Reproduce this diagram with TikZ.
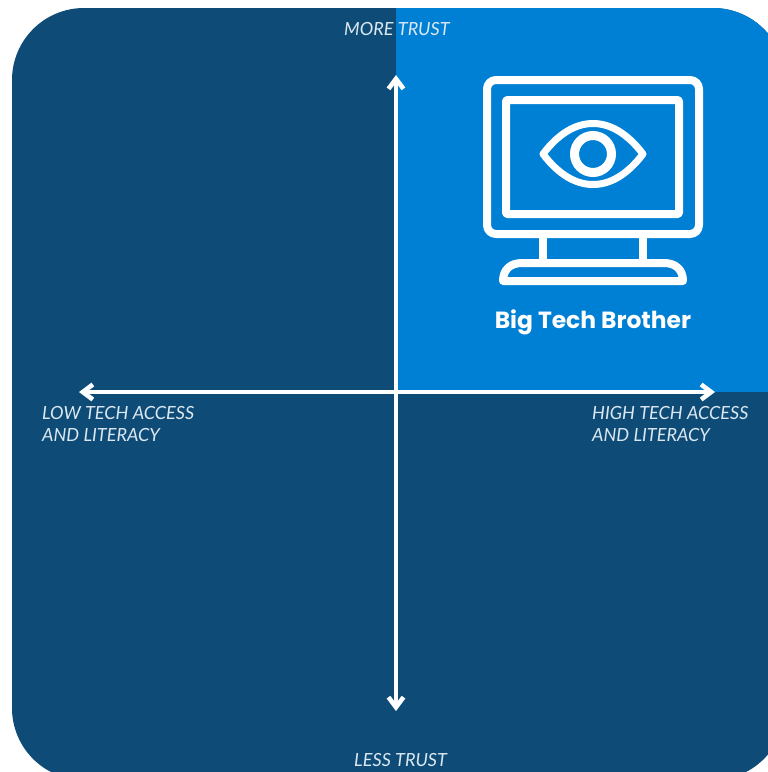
\documentclass[tikz,border=0pt]{standalone}
\usepackage{fontspec}
\setmainfont{Lato}
\newfontfamily\headfont{Poppins}
\usetikzlibrary{arrows.meta}
\definecolor{navy}{HTML}{0E4C77}
\definecolor{brightblue}{HTML}{0080D4}
\definecolor{labelgrey}{HTML}{DCE8F1}
\tikzset{
  axisline/.style={draw=white,line width=4.8pt,{Straight Barb[length=10pt,width=15pt,line width=4.6pt]}-{Straight Barb[length=10pt,width=15pt,line width=4.6pt]}},
  axislabel/.style={text=labelgrey,font=\fontsize{18.1}{22}\selectfont\itshape,align=left,inner sep=0pt},
  iconline/.style={draw=white,line width=8pt,line join=round},
  iconthin/.style={draw=white,line width=7pt,line join=round},
}
\begin{document}
\begin{tikzpicture}[x=1pt,y=-1pt]
\useasboundingbox (0,0) rectangle (768,772);
\begin{scope}
  \clip (0,0) rectangle (768,772);
  \begin{scope}
    \clip[rounded corners=72pt] (12,8) rectangle (785,780);
    \fill[navy] (0,0) rectangle (790,790);
    \fill[brightblue] (396,0) rectangle (790,392);
  \end{scope}
\end{scope}
% monitor
\draw[iconline,rounded corners=9pt] (487,80) rectangle (699,234);
\draw[iconline,rounded corners=1pt] (506,100) rectangle (679,214);
\draw[iconthin] (543,154) .. controls (559,133) and (576,123.5) .. (593,123.5) .. controls (610,123.5) and (627,133) .. (643,154) .. controls (627,175) and (610,184.5) .. (593,184.5) .. controls (576,184.5) and (559,175) .. (543,154) -- cycle;
\draw[draw=white,line width=9pt] (593,154) circle[radius=18.5pt];
\draw[iconline] (543,238) -- (543,260);
\draw[iconline] (643,238) -- (643,260);
\draw[iconline] (503,281) .. controls (503,270) and (510,263) .. (522,263) -- (664,263) .. controls (676,263) and (683,270) .. (683,281) -- cycle;
\node[text=white,font=\headfont\bfseries\fontsize{23.4}{26}\selectfont,inner sep=0pt,anchor=base] (title) at (593,328) {Big Tech Brother};
% axes
\coordinate (west) at (79,392);
\coordinate (east) at (715,392);
\coordinate (north) at (396,75);
\coordinate (south) at (396,711);
\draw[axisline] (west) -- (east);
\draw[axisline] (north) -- (south);
% labels
\node[axislabel,anchor=base west] (more) at (344,35) {MORE TRUST};
\node[axislabel,anchor=base west] (less) at (354,766) {LESS TRUST};
\node[axislabel,anchor=base west] (low1) at (42,419) {LOW TECH ACCESS};
\node[axislabel,anchor=base west] (low2) at (42,441) {AND LITERACY};
\node[axislabel,anchor=base west] (high1) at (592,419) {HIGH TECH ACCESS};
\node[axislabel,anchor=base west] (high2) at (592,441) {AND LITERACY};
\end{tikzpicture}
\end{document}
